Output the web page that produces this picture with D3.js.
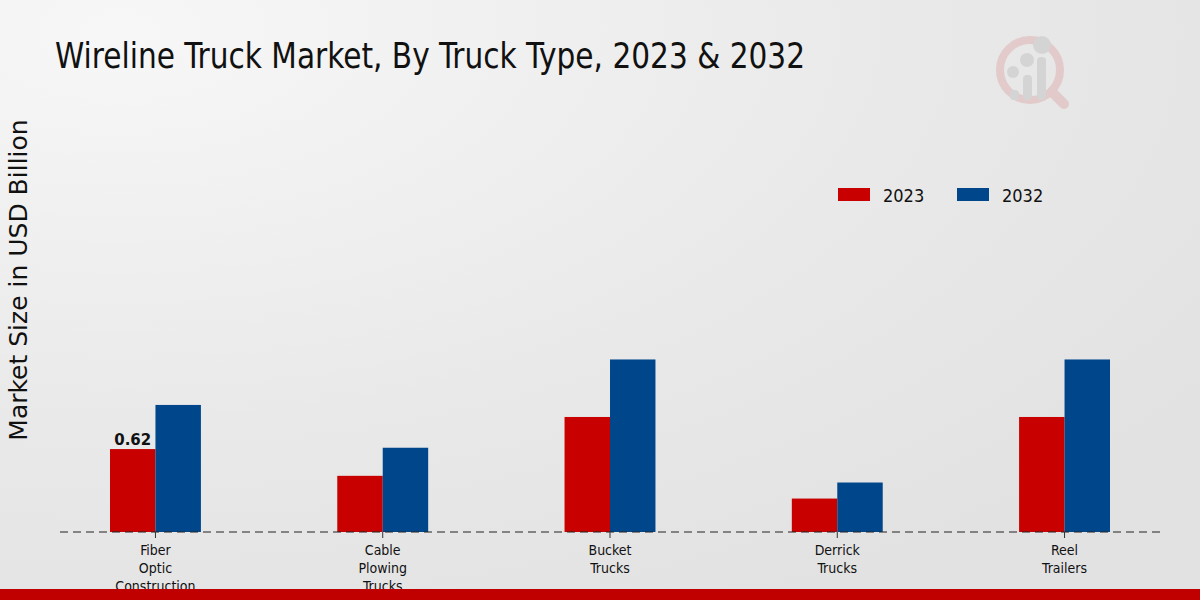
<!DOCTYPE html>
<html><head><meta charset="utf-8">
<script src="https://cdn.jsdelivr.net/npm/d3@7"></script>
<style>body{margin:0;}svg{display:block;}</style>
</head><body>
<svg id="chart" width="1200" height="600"></svg>
<script>
const categories = ["Fiber Optic Construction", "Cable Plowing Trucks", "Bucket Trucks", "Derrick Trucks", "Reel Trailers"];
const tickLabels = [["Fiber","Optic","Construction"],["Cable","Plowing","Trucks"],["Bucket","Trucks"],["Derrick","Trucks"],["Reel","Trailers"]];
const seriesNames = ["2023", "2032"];
const values2023 = [0.62, 0.42, 0.86, 0.25, 0.86];
const values2032 = [0.95, 0.63, 1.29, 0.37, 1.29];
const colors = ["#c80000", "#00468b"];

const svg = d3.select("#chart");
const defs = svg.append("defs");
const grad = defs.append("radialGradient").attr("id","bg").attr("cx","0.1").attr("cy","0.05").attr("r","1.1");
grad.append("stop").attr("offset","0").attr("stop-color","#f7f7f7");
grad.append("stop").attr("offset","0.6").attr("stop-color","#e9e9e9");
grad.append("stop").attr("offset","1").attr("stop-color","#e2e2e2");
svg.append("rect").attr("width",1200).attr("height",600).attr("fill","url(#bg)");

// logo (faint)
const logo = svg.append("g").attr("opacity",0.3);
logo.append("circle").attr("cx",1030).attr("cy",70).attr("r",30).attr("fill","none").attr("stroke","#d98a8a").attr("stroke-width",8);
logo.append("line").attr("x1",1052).attr("y1",92).attr("x2",1064).attr("y2",104).attr("stroke","#d98a8a").attr("stroke-width",10).attr("stroke-linecap","round");
[[1014,88,16],[1027,78,26],[1041,66,38]].forEach(([x,y,h])=>{
  logo.append("rect").attr("x",x-4).attr("y",y-h/2+10).attr("width",9).attr("height",h+ (100-y-h/2-10) ).attr("rx",4).attr("fill","#a9a9a9");
});
[[1013,72,6],[1027,60,7],[1042,45,9]].forEach(([x,y,r])=>logo.append("circle").attr("cx",x).attr("cy",y).attr("r",r).attr("fill","#a9a9a9"));

// title
svg.append("text").attr("x",55).attr("y",68).attr("font-family","DejaVu Sans Condensed, DejaVu Sans").attr("font-stretch","condensed")
  .attr("font-size",35).attr("fill","#111").attr("textLength",750).attr("lengthAdjust","spacingAndGlyphs")
  .text("Wireline Truck Market, By Truck Type, 2023 & 2032");

// y label
svg.append("text").attr("transform","translate(27,280) rotate(-90)").attr("text-anchor","middle")
  .attr("font-family","DejaVu Sans").attr("font-size",25).attr("fill","#111").text("Market Size in USD Billion");

const x0 = d3.scaleBand().domain(categories).range([60,1160]).paddingInner(0.6).paddingOuter(0.22);
const x1 = d3.scaleBand().domain(seriesNames).range([0, x0.bandwidth()]);
const y = d3.scaleLinear().domain([0, 3.23]).range([532, 100]);

const data = categories.map((c,i)=>({cat:c, vals:[values2023[i], values2032[i]]}));
const groups = svg.append("g").selectAll("g").data(data).join("g").attr("transform",d=>`translate(${x0(d.cat)},0)`);
groups.selectAll("rect").data(d=>d.vals.map((v,j)=>({v, s:seriesNames[j], j}))).join("rect")
  .attr("x",d=>x1(d.s)).attr("y",d=>y(d.v)).attr("width",x1.bandwidth()).attr("height",d=>y(0)-y(d.v))
  .attr("fill",d=>colors[d.j]);

// baseline dashed
svg.append("line").attr("x1",60).attr("x2",1160).attr("y1",y(0)).attr("y2",y(0))
  .attr("stroke","#222").attr("stroke-width",1).attr("stroke-dasharray","8,5");

// x axis ticks
const xa = svg.append("g").attr("transform",`translate(0,${y(0)})`).call(d3.axisBottom(x0).tickSize(6).tickFormat(""));
xa.select(".domain").remove();
xa.selectAll(".tick line").attr("stroke","#333");
xa.selectAll(".tick").each(function(d,i){
  const t = d3.select(this).append("text").attr("fill","#111").attr("text-anchor","middle")
    .attr("font-family","DejaVu Sans Condensed, DejaVu Sans").attr("font-stretch","condensed").attr("font-size",14);
  tickLabels[i].forEach((l,k)=>t.append("tspan").attr("x",0).attr("y",23+k*18).text(l));
});

// data label
svg.append("text").attr("x",x0(categories[0])+x1("2023")+x1.bandwidth()/2).attr("y",y(values2023[0])-4)
  .attr("text-anchor","middle").attr("font-family","DejaVu Sans").attr("font-weight","bold").attr("font-size",15)
  .attr("fill","#111").text(values2023[0].toFixed(2));

// legend
const lg = svg.append("g");
seriesNames.forEach((s,i)=>{
  const gx = 838 + i*119;
  lg.append("rect").attr("x",gx).attr("y",188).attr("width",32).attr("height",13).attr("fill",colors[i]);
  lg.append("text").attr("x",gx+45).attr("y",202).attr("font-family","DejaVu Sans Condensed, DejaVu Sans").attr("font-stretch","condensed")
    .attr("font-size",18).attr("fill","#111").text(s);
});

// bottom bar
svg.append("rect").attr("x",0).attr("y",589).attr("width",1200).attr("height",11).attr("fill","#c00000");
</script>
</body></html>
